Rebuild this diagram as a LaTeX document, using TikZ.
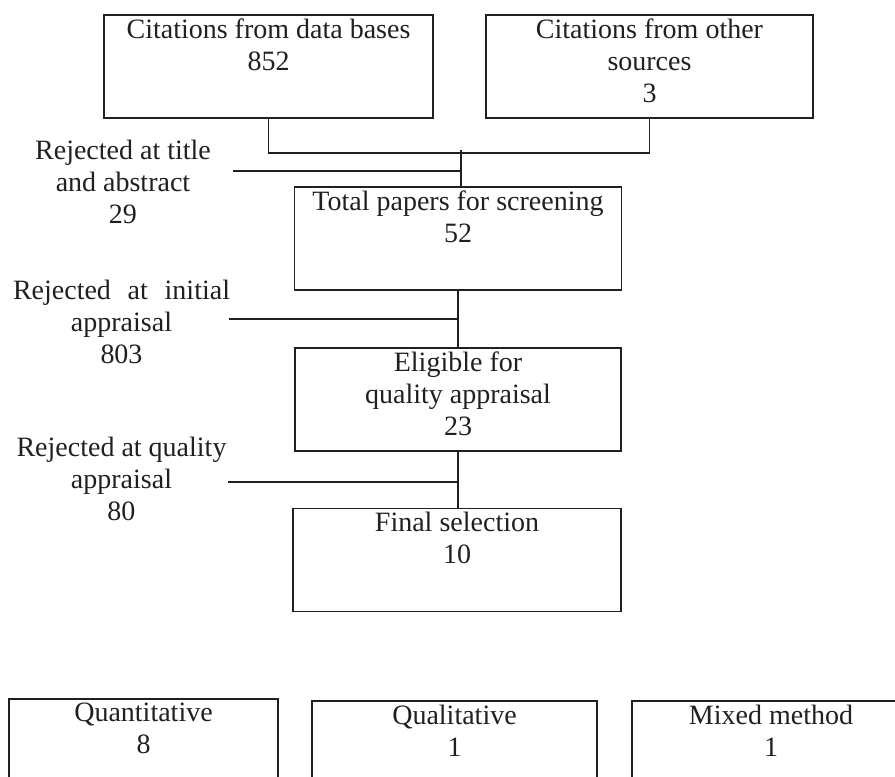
\documentclass[tikz,border=0pt]{standalone}
\usepackage{fontspec}
\setmainfont{Liberation Serif}

\definecolor{ink}{HTML}{231F20}
\tikzset{
  flowbox/.style={draw=ink, line width=1.6pt, inner sep=0pt, minimum height=103pt},
  boxtext/.style={anchor=north, align=center, inner sep=0.5pt, yshift=-4pt, text=ink,
    font=\fontsize{28}{32}\selectfont},
  rejtext/.style={anchor=north, align=center, inner sep=0pt, text=ink,
    font=\fontsize{28}{32}\selectfont},
  link/.style={draw=ink, line width=1.6pt}
}

\begin{document}
\begin{tikzpicture}[x=1pt, y=-1pt]

  \useasboundingbox (0,0) rectangle (895,777);

  % sources
  \node[flowbox, minimum width=329pt] (db) at (268.5,66.5) {};
  \node[boxtext] (dbtxt) at (db.north) {Citations from data bases\\852};

  \node[flowbox, minimum width=327pt] (other) at (649.5,66.5) {};
  \node[boxtext] (othertxt) at (other.north) {Citations from other\\sources\\3};

  % screening steps
  \node[flowbox, minimum width=327pt] (total) at (458,238.5) {};
  \node[boxtext] (totaltxt) at (total.north) {Total papers for screening\\52};

  \node[flowbox, minimum width=326pt] (elig) at (458,399.5) {};
  \node[boxtext] (eligtxt) at (elig.north) {Eligible for\\quality appraisal\\23};

  \node[flowbox, minimum width=328pt] (final) at (457,560) {};
  \node[boxtext] (finaltxt) at (final.north) {Final selection\\10};

  % rejections
  \node[rejtext] (rej1) at (123,140) {Rejected at title\\and abstract\\29};
  \node[rejtext] (rej2) at (121.5,280) {\makebox[217pt][s]{Rejected at initial}\\appraisal\\803};
  \node[rejtext] (rej3) at (121.5,437) {Rejected at quality\\appraisal\\80};

  % study designs
  \node[flowbox, minimum width=269pt] (quant) at (143.5,750.5) {};
  \node[boxtext] (quanttxt) at (quant.north) {Quantitative\\8};

  \node[flowbox, minimum width=285pt] (qual) at (454.5,752.5) {};
  \node[boxtext] (qualtxt) at (qual.north) {Qualitative\\1};

  \node[flowbox, minimum width=278pt] (mixed) at (771,752.5) {};
  \node[boxtext] (mixedtxt) at (mixed.north) {Mixed method\\1};

  % connectors
  \coordinate (join) at (461,153);
  \coordinate (jtop) at (461,150);
  \draw[link] (db.south) |- (join) -| (other.south);
  \draw[link] (jtop) -- (jtop |- total.north);

  \coordinate (r1) at (233,171);
  \coordinate (r2) at (229,319);
  \coordinate (r3) at (228,482);
  \draw[link] (r1) -- (r1 -| jtop);

  \draw[link] (total.south) -- (total.south |- elig.north);
  \draw[link] (r2) -- (r2 -| total.south);

  \draw[link] (elig.south) -- (elig.south |- final.north);
  \draw[link] (r3) -- (r3 -| elig.south);

\end{tikzpicture}
\end{document}
